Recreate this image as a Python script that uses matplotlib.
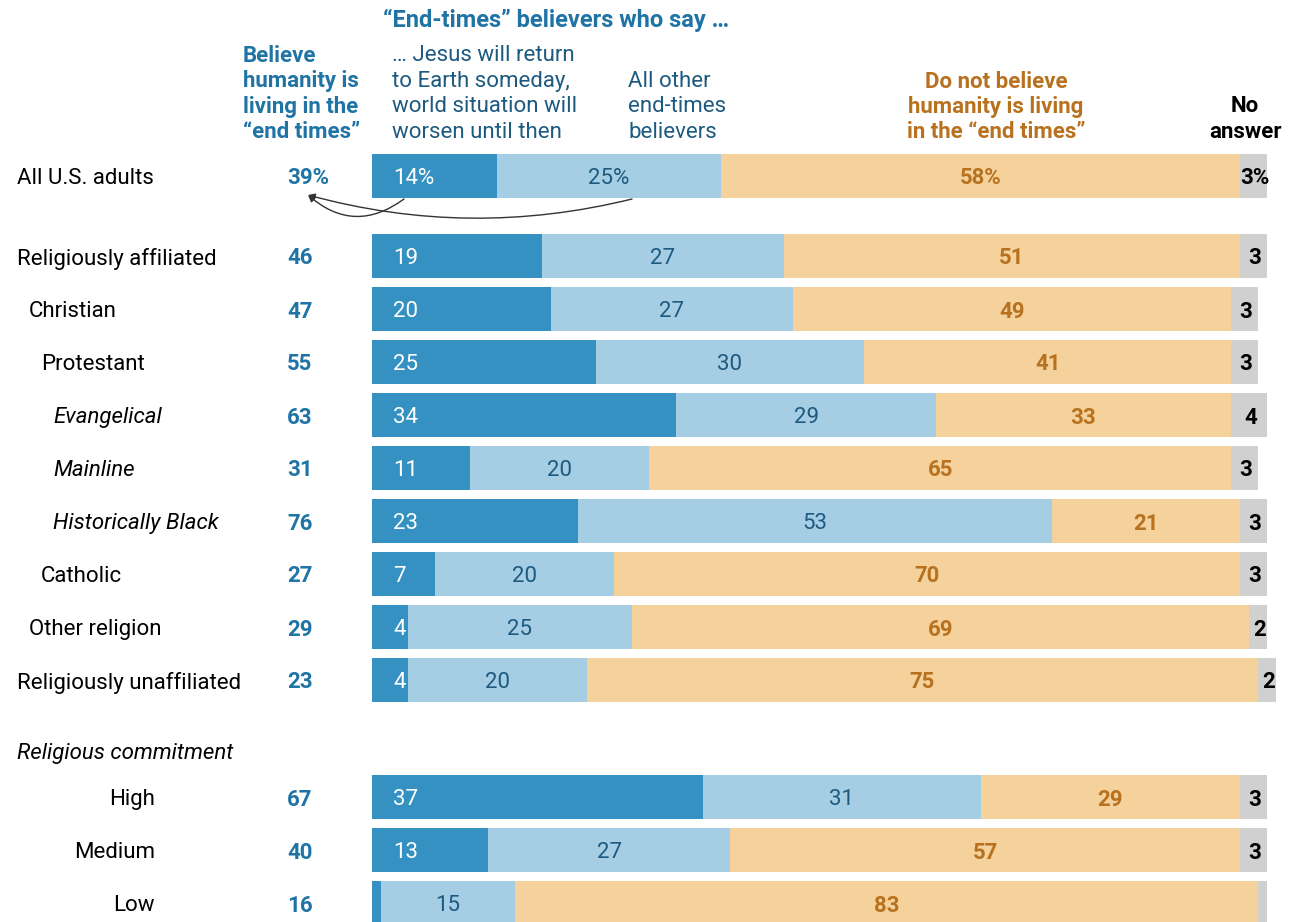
import matplotlib.pyplot as plt

plt.rcParams['font.family'] = ['Roboto', 'DejaVu Sans']

cats = ['All U.S. adults', 'Religiously affiliated', 'Christian', 'Protestant',
        'Evangelical', 'Mainline', 'Historically Black', 'Catholic',
        'Other religion', 'Religiously unaffiliated', 'High', 'Medium', 'Low']
indent = [0, 0, 1, 2, 3, 3, 3, 2, 1, 0, None, None, None]
italic = ['Evangelical', 'Mainline', 'Historically Black']

believe = [39, 46, 47, 55, 63, 31, 76, 27, 29, 23, 67, 40, 16]
jesus = [14, 19, 20, 25, 34, 11, 23, 7, 4, 4, 37, 13, 1]
other = [25, 27, 27, 30, 29, 20, 53, 20, 25, 20, 31, 27, 15]
not_believe = [58, 51, 49, 41, 33, 65, 21, 70, 69, 75, 29, 57, 83]
no_answer = [3, 3, 3, 3, 4, 3, 3, 3, 2, 2, 3, 3, 1]

DARK = '#3491c1'
LIGHT = '#a5cde3'
TAN = '#f5d29b'
GREY = '#d0d0d0'
BLUE_TXT = '#1f74a5'
NAVY_TXT = '#1d5a80'
TAN_TXT = '#b8721f'

# pixel helpers: 1 % = 8.95 px, bars start at x=372; one row = 53 px
def px(x):
    return (x - 372) / 8.95

def py(y):
    return (y - 176) / 53.0

rows = [0] + [py(256) + i for i in range(9)] + [py(797) + i for i in range(3)]

fig = plt.figure(figsize=(12.95, 9.22), dpi=100)
ax = fig.add_axes([0, 0, 1, 1])
ax.set_xlim(px(0), px(1295))
ax.set_ylim(py(922), py(0))
ax.axis('off')

h = 44 / 53.0
fs = 16
for i, y in enumerate(rows):
    segs = [jesus[i], other[i], not_believe[i], no_answer[i]]
    cols = [DARK, LIGHT, TAN, GREY]
    left = 0
    for j, (v, c) in enumerate(zip(segs, cols)):
        ax.barh(y, v, left=left, height=h, color=c, linewidth=0)
        lab = f'{v}%' if i == 0 else f'{v}'
        if v >= 2:
            if j == 0:
                ax.text(left + 2.35, y, lab, ha='left', va='center_baseline',
                        color='white', fontsize=fs)
            elif j == 1:
                ax.text(left + v / 2, y, lab, ha='center', va='center_baseline',
                        color=NAVY_TXT, fontsize=fs)
            elif j == 2:
                ax.text(left + v / 2, y, lab, ha='center', va='center_baseline',
                        color=TAN_TXT, fontsize=fs, fontweight='bold')
            else:
                ax.text(left + v / 2 + 0.15, y, lab, ha='center', va='center_baseline',
                        color='black', fontsize=fs, fontweight='bold')
        left += v

    # category label
    style = 'italic' if cats[i] in italic else 'normal'
    if indent[i] is None:
        ax.text(px(155), y, cats[i], ha='right', va='center_baseline',
                fontsize=fs, color='black')
    else:
        ax.text(px(17 + 12 * indent[i]), y, cats[i], ha='left', va='center_baseline',
                fontsize=fs, color='black', style=style)

    # total end-times believers
    lab = f'{believe[i]}%' if i == 0 else f'{believe[i]}'
    ax.text(px(287), y, lab, ha='left', va='center_baseline', fontsize=fs,
            color=BLUE_TXT, fontweight='bold')

ax.text(px(17), py(751), 'Religious commitment', ha='left', va='center_baseline',
        fontsize=fs, style='italic', color='black')

# column headers
line_y = [53, 79, 104, 130]

def header(x, lines, color, weight, ha='left'):
    start = len(line_y) - len(lines)
    for k, s in enumerate(lines):
        ax.text(px(x), py(line_y[start + k]), s, ha=ha, va='center_baseline',
                fontsize=fs, color=color, fontweight=weight)

ax.text(px(556), py(18), '\u201cEnd-times\u201d believers who say \u2026', ha='center',
        va='center_baseline', fontsize=17, color=BLUE_TXT, fontweight='bold')
header(243, ['Believe', 'humanity is', 'living in the', '\u201cend times\u201d'],
       BLUE_TXT, 'bold')
header(392, ['\u2026 Jesus will return', 'to Earth someday,',
             'world situation will', 'worsen until then'], NAVY_TXT, 'normal')
header(628, ['All other', 'end-times', 'believers'], NAVY_TXT, 'normal')
header(996, ['Do not believe', 'humanity is living', 'in the \u201cend times\u201d'],
       TAN_TXT, 'bold', ha='center')
header(1245, ['No', 'answer'], 'black', 'bold', ha='center')

# arrows from the two segments back to the total
for sx, rad in [(404, -0.4), (632, -0.13)]:
    ax.annotate('', xy=(px(308), py(195)), xytext=(px(sx), py(199)),
                arrowprops=dict(arrowstyle='-|>', color='#333333', lw=1,
                                mutation_scale=10,
                                connectionstyle=f'arc3,rad={rad}',
                                shrinkA=0, shrinkB=0))

fig.savefig('out.png', dpi=100)
